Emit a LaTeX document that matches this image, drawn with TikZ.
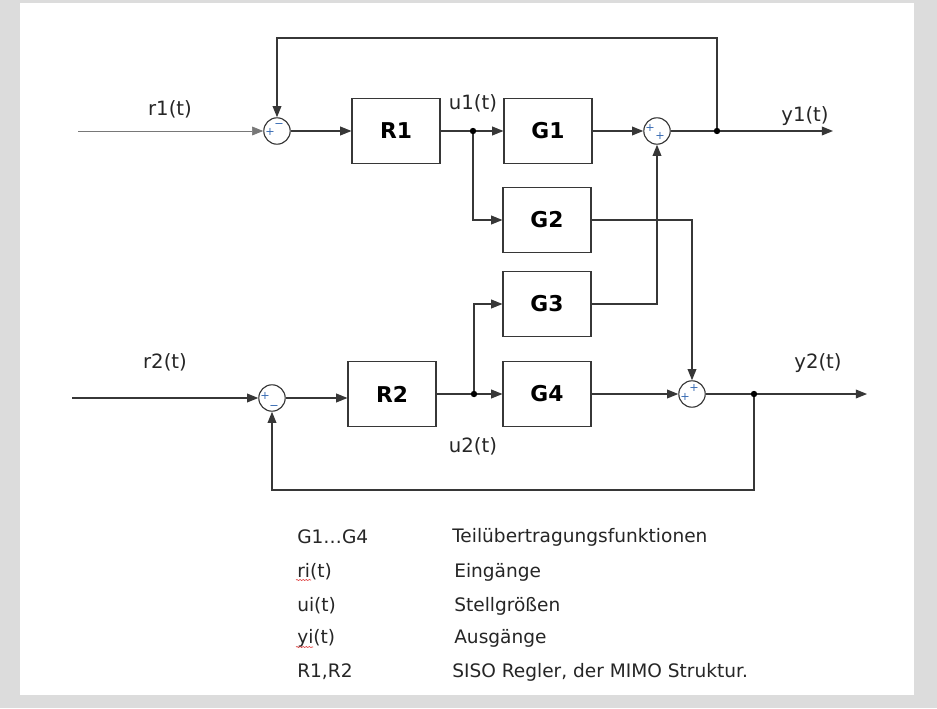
\documentclass[tikz,border=0pt]{standalone}
\usepackage{fontspec}
\setmainfont{DejaVu Sans}
\usetikzlibrary{arrows.meta, positioning, calc, decorations.pathmorphing}
\definecolor{mygray}{RGB}{55,55,55}
\definecolor{mylight}{RGB}{120,120,120}
\definecolor{myframe}{RGB}{220,220,220}
\definecolor{mysign}{RGB}{60,110,180}
\definecolor{mywave}{RGB}{220,40,40}
\tikzset{
  block/.style={rectangle, draw=mygray, line width=0.8pt,
    minimum width=2.2cm, minimum height=1.62cm,
    font=\fontsize{15.5}{18}\selectfont\bfseries},
  sumnode/.style={circle, draw=mygray, line width=0.8pt,
    minimum size=0.66cm, inner sep=0pt},
  sig/.style={font=\fontsize{14}{16}\selectfont, text=black!85, inner sep=0pt},
  legend/.style={font=\fontsize{13.2}{16}\selectfont, text=black!85,
    anchor=west, inner sep=0pt},
  sign/.style={font=\fontsize{8}{9}\selectfont, text=mysign, inner sep=0pt},
  arrow/.style={-{Triangle[length=0.28cm, width=0.22cm]}, line width=0.8pt, color=mygray},
  line/.style={line width=0.8pt, color=mygray},
  dot/.style={circle, fill=black, inner sep=0pt, minimum size=0.16cm},
  wave/.style={mywave, line width=0.4pt, decorate,
    decoration={snake, amplitude=0.35pt, segment length=2.2pt}}
}

\begin{document}
\begin{tikzpicture}[x=0.025cm, y=-0.025cm]
  \useasboundingbox (0,0) rectangle (937,708);
  \fill[myframe] (0,0) rectangle (937,708);
  \fill[white] (20,3) rectangle (914,695);

  % Blocks
  \node[block] (R1) at (396,131) {R1};
  \node[block] (G1) at (548,131) {G1};
  \node[block] (G2) at (547,220) {G2};
  \node[block] (G3) at (547,304) {G3};
  \node[block] (R2) at (392,394) {R2};
  \node[block] (G4) at (547,394) {G4};

  % Summing points
  \node[sumnode] (s1) at (277,131) {};
  \node[sumnode] (s2) at (657,131) {};
  \node[sumnode] (s3) at (272,398) {};
  \node[sumnode] (s4) at (692,394) {};
  \node[sign] at ($(s1)+(-7,1)$) {+};
  \node[sign] at ($(s1)+(2,-5)$) {−};
  \node[sign] at ($(s2)+(-7,-3)$) {+};
  \node[sign] at ($(s2)+(3,5)$) {+};
  \node[sign] at ($(s3)+(-7,-2)$) {+};
  \node[sign] at ($(s3)+(2,9)$) {−};
  \node[sign] at ($(s4)+(-7,3)$) {+};
  \node[sign] at ($(s4)+(2,-6)$) {+};

  % Branch points and free ends
  \node[dot] (j1) at (473,131) {};
  \node[dot] (j2) at (717,131) {};
  \node[dot] (j3) at (474,394) {};
  \node[dot] (j4) at (754,394) {};
  \coordinate (in1) at (78,131);
  \coordinate (in2) at (72,398);
  \coordinate (out1) at (833,131);
  \coordinate (out2) at (867,394);
  \coordinate (fb1) at (277,38);
  \coordinate (fb2) at (272,490);

  % Upper loop
  \draw[arrow, line width=0.5pt, color=mylight] (in1) -- (s1);
  \draw[arrow] (s1) -- (R1);
  \draw[line] (R1) -- (j1);
  \draw[arrow] (j1) -- (G1);
  \draw[arrow] (j1) |- (G2);
  \draw[arrow] (G1) -- (s2);
  \draw[line] (s2) -- (j2);
  \draw[arrow] (j2) -- (out1);
  \draw[arrow] (j2) |- (fb1) -| (s1);

  % Lower loop
  \draw[arrow] (in2) -- (s3);
  \draw[arrow] (s3) -- (s3 -| R2.west);
  \draw[line] (R2) -- (j3);
  \draw[arrow] (j3) -- (G4);
  \draw[arrow] (j3) |- (G3);
  \draw[arrow] (G4) -- (s4);
  \draw[line] (s4) -- (j4);
  \draw[arrow] (j4) -- (out2);
  \draw[arrow] (j4) |- (fb2) -| (s3);

  % Cross couplings
  \draw[arrow] (G2) -| (s4);
  \draw[arrow] (G3) -| (s2);

  % Signal labels
  \node[sig] (lr1) at (170,109) {r1(t)};
  \node[sig] (lr2) at (165,362) {r2(t)};
  \node[sig] (lu1) at (473,103) {u1(t)};
  \node[sig] (lu2) at (473,446) {u2(t)};
  \node[sig] (ly1) at (805,116) {y1(t)};
  \node[sig] (ly2) at (818,363) {y2(t)};

  % Legend
  \node[legend] (k1) at (297,537) {G1…G4};
  \node[legend] (k2) at (297,572) {ri(t)};
  \node[legend] (k3) at (297,606) {ui(t)};
  \node[legend] (k4) at (297,638) {yi(t)};
  \node[legend] (k5) at (297,672) {R1,R2};
  \node[legend] (d1) at (452,537) {Teilübertragungsfunktionen};
  \node[legend] (d2) at (454,572) {Eingänge};
  \node[legend] (d3) at (454,606) {Stellgrößen};
  \node[legend] (d4) at (454,638) {Ausgänge};
  \node[legend] (d5) at (452,672) {SISO Regler, der MIMO Struktur.};
  \draw[wave] (296,580) -- (311,580);
  \draw[wave] (296,647) -- (313,647);
\end{tikzpicture}
\end{document}
